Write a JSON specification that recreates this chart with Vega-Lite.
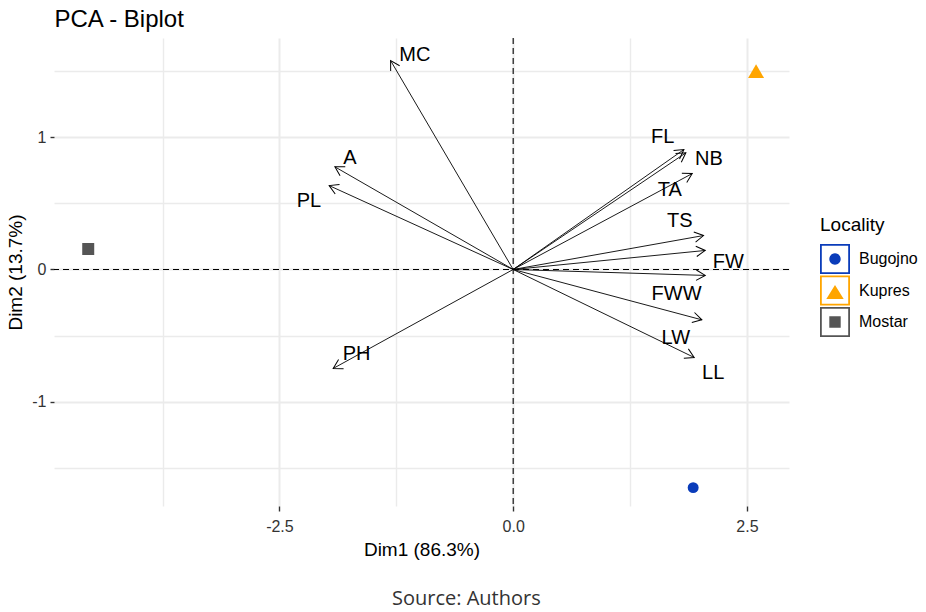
{
  "$schema": "https://vega.github.io/schema/vega-lite/v6.json",
  "width": 735,
  "height": 468,
  "autosize": {"type": "none"},
  "padding": {"left": 54, "top": 38, "right": 137, "bottom": 106},
  "background": "white",
  "title": {
    "text": "Source: Authors",
    "orient": "bottom",
    "anchor": "middle",
    "frame": "bounds",
    "font": "Open Sans",
    "fontSize": 20,
    "fontWeight": "normal",
    "color": "#333333",
    "offset": 30,
    "dx": 4
  },
  "config": {
    "view": {"stroke": null},
    "font": "Liberation Sans",
    "axis": {"domain": false, "labelFont": "Liberation Sans", "titleFont": "Liberation Sans"},
    "legend": {
      "orient": "none",
      "legendX": 766,
      "legendY": 178,
      "padding": 0,
      "titleFont": "Liberation Sans",
      "titleFontSize": 19,
      "titleFontWeight": "normal",
      "titleColor": "black",
      "titlePadding": 9,
      "labelFont": "Liberation Sans",
      "labelFontSize": 16,
      "labelColor": "black",
      "labelOffset": 9,
      "symbolSize": 900,
      "symbolStrokeWidth": 0,
      "rowPadding": 1.5
    }
  },
  "datasets": {
    "origin": [{"x": 0, "y": 0}],
    "variables": [
      {"name": "MC", "x": -1.311, "y": 1.581, "lx": -1.051, "ly": 1.621},
      {"name": "A", "x": -1.907, "y": 0.777, "lx": -1.747, "ly": 0.845},
      {"name": "PL", "x": -1.968, "y": 0.635, "lx": -2.185, "ly": 0.517},
      {"name": "PH", "x": -1.925, "y": -0.749, "lx": -1.675, "ly": -0.643},
      {"name": "FL", "x": 1.826, "y": 0.908, "lx": 1.598, "ly": 1.004},
      {"name": "NB", "x": 1.847, "y": 0.883, "lx": 2.093, "ly": 0.837},
      {"name": "TA", "x": 1.915, "y": 0.726, "lx": 1.676, "ly": 0.605},
      {"name": "TS", "x": 2.036, "y": 0.257, "lx": 1.783, "ly": 0.365},
      {"name": "FW", "x": 2.054, "y": 0.144, "lx": 2.3, "ly": 0.058},
      {"name": "FWW", "x": 2.054, "y": -0.045, "lx": 1.747, "ly": -0.184},
      {"name": "LW", "x": 2.018, "y": -0.381, "lx": 1.74, "ly": -0.517},
      {"name": "LL", "x": 1.936, "y": -0.666, "lx": 2.139, "ly": -0.787}
    ],
    "individuals": [
      {"Locality": "Bugojno", "x": 1.925, "y": -1.651},
      {"Locality": "Kupres", "x": 2.598, "y": 1.501},
      {"Locality": "Mostar", "x": -4.545, "y": 0.155}
    ]
  },
  "resolve": {"axis": {"x": "independent", "y": "independent"}},
  "layer": [
    {
      "data": {"name": "origin"},
      "mark": {"type": "point", "opacity": 0},
      "encoding": {
        "x": {"field": "x", "type": "quantitative", "scale": {"domain": [-4.911, 2.95], "nice": false, "zero": false}, "axis": null},
        "y": {
          "field": "y", "type": "quantitative",
          "scale": {"domain": [-1.79, 1.752], "nice": false, "zero": false},
          "axis": {
            "orient": "left",
            "title": "Dim2 (13.7%)",
            "values": [-1.5, -1, -0.5, 0, 0.5, 1, 1.5],
            "labelExpr": "datum.value % 1 === 0 ? replace(format(datum.value, 'd'), '\u2212', '-') : ''",
            "labelOverlap": false,
            "labelFlush": false,
            "labelFontSize": 16,
            "labelColor": "#333333",
            "labelPadding": 4,
            "grid": true,
            "gridColor": "#ebebeb",
            "gridWidth": {"condition": {"test": "datum.value % 1 === 0", "value": 2}, "value": 1.4},
            "ticks": true,
            "tickSize": 4,
            "tickWidth": 1.4,
            "tickColor": "#333333",
            "tickOpacity": {"condition": {"test": "datum.value % 1 === 0", "value": 1}, "value": 0},
            "titleFontSize": 19,
            "titleFontWeight": "normal",
            "titleColor": "black",
            "titlePadding": 6
          }
        }
      }
    },
    {
      "data": {"name": "origin"},
      "mark": {"type": "rule", "color": "black", "strokeWidth": 1.1, "strokeDash": [6, 4]},
      "encoding": {
        "x": {"field": "x", "type": "quantitative", "scale": {"domain": [-4.911, 2.95], "nice": false, "zero": false}, "axis": null}
      }
    },
    {
      "data": {"name": "origin"},
      "mark": {"type": "rule", "color": "black", "strokeWidth": 1.1, "strokeDash": [6, 4]},
      "encoding": {
        "y": {"field": "y", "type": "quantitative", "scale": {"domain": [-1.79, 1.752], "nice": false, "zero": false}, "axis": null}
      }
    },
    {
      "data": {"name": "variables"},
      "mark": {"type": "rule", "color": "black", "strokeWidth": 0.9},
      "encoding": {
        "x": {"field": "x", "type": "quantitative", "scale": {"domain": [-4.911, 2.95], "nice": false, "zero": false}, "axis": null},
        "y": {"field": "y", "type": "quantitative", "scale": {"domain": [-1.79, 1.752], "nice": false, "zero": false}, "axis": null},
        "x2": {"datum": 0},
        "y2": {"datum": 0}
      }
    },
    {
      "data": {"name": "variables"},
      "mark": {
        "type": "point",
        "shape": "M-1,-0.577L0,0L-1,0.577",
        "filled": false,
        "stroke": "black",
        "strokeWidth": 1,
        "opacity": 1,
        "size": 324,
        "angle": {"expr": "atan2(scale('y', datum.y) - scale('y', 0), scale('x', datum.x) - scale('x', 0)) * 180 / PI"}
      },
      "encoding": {
        "x": {
          "field": "x", "type": "quantitative",
          "scale": {"domain": [-4.911, 2.95], "nice": false, "zero": false},
          "axis": {
            "orient": "top",
            "title": "PCA - Biplot",
            "titleAnchor": "start",
            "titleAlign": "left",
            "titleFontSize": 24,
            "titleFontWeight": "normal",
            "titleColor": "black",
            "titlePadding": 7,
            "labels": false,
            "ticks": false,
            "grid": false,
            "domain": false
          }
        },
        "y": {"field": "y", "type": "quantitative", "scale": {"domain": [-1.79, 1.752], "nice": false, "zero": false}, "axis": null}
      }
    },
    {
      "data": {"name": "variables"},
      "mark": {"type": "text", "font": "Liberation Sans", "fontSize": 20, "color": "black", "align": "center", "baseline": "middle"},
      "encoding": {
        "x": {"field": "lx", "type": "quantitative", "scale": {"domain": [-4.911, 2.95], "nice": false, "zero": false}, "axis": null},
        "y": {"field": "ly", "type": "quantitative", "scale": {"domain": [-1.79, 1.752], "nice": false, "zero": false}, "axis": null},
        "text": {"field": "name"}
      }
    },
    {
      "data": {"name": "individuals"},
      "mark": {
        "type": "point",
        "filled": true,
        "opacity": 1,
        "strokeWidth": 0,
        "shape": {"expr": "datum.value === 'Bugojno' ? 'M-1,-1H1V1H-1Z M-0.88,-0.88V0.88H0.88V-0.88Z M0.38,0A0.38,0.38,0,1,1,-0.38,0A0.38,0.38,0,1,1,0.38,0Z' : datum.value === 'Kupres' ? 'M-1,-1H1V1H-1Z M-0.88,-0.88V0.88H0.88V-0.88Z M0,-0.37L0.58,0.56H-0.58Z' : 'M-1,-1H1V1H-1Z M-0.88,-0.88V0.88H0.88V-0.88Z M-0.38,-0.38H0.38V0.38H-0.38Z'"}
      },
      "encoding": {
        "x": {
          "field": "x", "type": "quantitative",
          "scale": {"domain": [-4.911, 2.95], "nice": false, "zero": false},
          "axis": {
            "orient": "bottom",
            "title": "Dim1 (86.3%)",
            "values": [-3.75, -2.5, -1.25, 0, 1.25, 2.5],
            "labelExpr": "abs(datum.value % 2.5) < 0.001 ? replace(format(datum.value, '.1f'), '\u2212', '-') : ''",
            "labelOverlap": false,
            "labelFlush": false,
            "labelFontSize": 16,
            "labelColor": "#333333",
            "labelPadding": 7,
            "grid": true,
            "gridColor": "#ebebeb",
            "gridWidth": {"condition": {"test": "abs(datum.value % 2.5) < 0.001", "value": 2}, "value": 1.4},
            "ticks": true,
            "tickSize": 5,
            "tickWidth": 1.4,
            "tickColor": "#333333",
            "tickOpacity": {"condition": {"test": "abs(datum.value % 2.5) < 0.001", "value": 1}, "value": 0},
            "titleFontSize": 19,
            "titleFontWeight": "normal",
            "titleColor": "black",
            "titlePadding": 6
          }
        },
        "y": {"field": "y", "type": "quantitative", "scale": {"domain": [-1.79, 1.752], "nice": false, "zero": false}, "axis": null},
        "color": {
          "field": "Locality", "type": "nominal",
          "scale": {"range": ["#0a3cba", "#ffa500", "#555555"]},
          "legend": {
            "title": "Locality",
            "encode": {
              "symbols": {
                "size": {"value": 900},
                "strokeWidth": {"value": 0},
                "opacity": {"value": 1}
              }
            }
          }
        },
        "shape": {
          "field": "Locality", "type": "nominal",
          "scale": {"domain": ["Bugojno", "Kupres", "Mostar"], "range": ["circle", "triangle-up", "square"]},
          "legend": null
        },
        "size": {
          "field": "Locality", "type": "ordinal",
          "scale": {"type": "ordinal", "domain": ["Bugojno", "Kupres", "Mostar"], "range": [120, 256, 144]},
          "legend": null
        }
      }
    }
  ]
}
